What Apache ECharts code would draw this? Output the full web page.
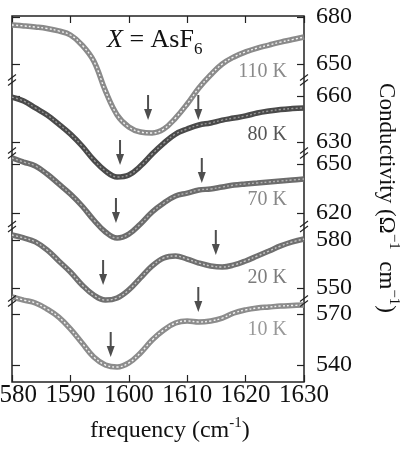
<!DOCTYPE html>
<html>
<head>
<meta charset="utf-8">
<script src="https://cdn.jsdelivr.net/npm/echarts@6/dist/echarts.min.js"></script>
<style>
  html, body { margin: 0; padding: 0; background: #fff; }
  #chart { width: 409px; height: 449px; }
</style>
</head>
<body>
<div id="chart"></div>
<script>
  // frequency grid (cm-1)
  const freq = [1580, 1582, 1584, 1586, 1588, 1590, 1592, 1594, 1596, 1598, 1600, 1602, 1604,
    1606, 1608, 1610, 1612, 1614, 1616, 1618, 1620, 1622, 1624, 1626, 1628, 1630]

  // conductivity, each spectrum on its own offset scale
  const s110 = [674.9, 674.3, 673.6, 672.7, 671.1, 668.5, 662.1, 651.9, 632.8, 617.5, 609.8, 606.6, 606.0,
    608.5, 615.5, 624.5, 634.7, 643.0, 650.0, 654.5, 657.7, 660.2, 662.1, 664.0, 665.6, 667.2]
  const s80 = [659.3, 656.7, 652.2, 647.6, 641.7, 635.2, 627.4, 618.3, 611.1, 607.2, 608.5, 614.3, 622.2,
    629.3, 635.2, 638.5, 641.1, 642.4, 644.3, 645.6, 647.0, 648.9, 650.2, 651.2, 651.8, 652.2]
  const s70 = [653.7, 651.2, 648.8, 643.9, 637.8, 631.6, 624.3, 615.7, 608.4, 604.7, 607.1, 613.3, 620.6,
    626.1, 630.4, 632.2, 634.1, 634.7, 635.9, 637.1, 637.8, 638.4, 639.0, 639.6, 640.2, 640.8]
  const s20 = [583.1, 581.3, 578.8, 573.8, 566.9, 560.0, 551.9, 545.6, 542.5, 543.8, 548.8, 556.3, 563.8,
    568.8, 570.0, 568.1, 565.6, 563.8, 563.1, 564.4, 566.9, 570.0, 573.1, 576.3, 578.8, 580.6]
  const s10 = [580.0, 578.2, 576.5, 572.9, 568.2, 561.2, 552.9, 544.7, 540.0, 538.8, 541.2, 547.1, 554.7,
    560.6, 564.7, 565.9, 565.3, 565.9, 567.6, 570.6, 572.4, 573.5, 574.1, 574.7, 575.0, 575.3]

  // axis ranges of each spectrum [min, max]
  const ranges = [[650, 680], [630, 660], [620, 650], [550, 580], [540, 570]]

  // arrow tips [frequency, conductivity]
  const a110 = [[1603.3, 614.3]]
  const a80 = [[1598.5, 615.0], [1611.9, 644.3]]
  const a70 = [[1597.8, 613.9], [1612.5, 638.4]]
  const a20 = [[1595.6, 551.9], [1614.9, 570.6]]
  const a10 = [[1596.9, 544.7], [1611.9, 571.2]]

  const temps = ['110 K', '80 K', '70 K', '20 K', '10 K']
  const spectra = [s110, s80, s70, s20, s10]
  const arrows = [a110, a80, a70, a20, a10]

  const serif = "'Liberation Serif', 'Times New Roman', serif"
  // pixel boxes for each spectrum's scale (top, height)
  const boxes = [[17, 47], [96, 46], [164, 49], [240, 48], [314, 51]]
  const outer = ['#8a8a8a', '#4a4a4a', '#6c6c6c', '#707070', '#8c8c8c']
  const inner = ['#f2f2f2', '#9a9a9a', '#b4b4b4', '#c8c8c8', '#f2f2f2']
  const labelColor = ['#8a8a8a', '#555', '#888', '#7c7c7c', '#999']
  const labelY = [72, 135, 200, 278, 330]

  const arrowPath = 'path://M3,0 L5,0 L5,14 L8,14 L4,25 L0,14 L3,14 Z'
  const plain = v => String(v)

  const grid = [{ left: 12, right: 105, top: 16, bottom: 67, show: true, outerBoundsMode: 'none',
    containLabel: false, borderColor: '#222', borderWidth: 1.5, backgroundColor: 'transparent' }]
  const xAxis = [
    {
      gridIndex: 0, type: 'value', min: 1580, max: 1630, interval: 10, position: 'bottom',
      axisLine: { show: false },
      axisTick: { inside: true, length: 7, lineStyle: { color: '#222', width: 1.2 } },
      axisLabel: { fontFamily: serif, fontSize: 25, color: '#111', margin: 1, formatter: plain,
        showMinLabel: true, showMaxLabel: true, hideOverlap: false },
      splitLine: { show: false }
    },
    {
      gridIndex: 0, type: 'value', min: 1580, max: 1630, interval: 10, position: 'top',
      axisLine: { show: false },
      axisTick: { inside: true, length: 7, lineStyle: { color: '#222', width: 1.2 } },
      axisLabel: { show: false },
      splitLine: { show: false }
    }
  ]
  const yAxis = [{ gridIndex: 0, type: 'value', min: 0, max: 1, show: false }]
  const series = []

  spectra.forEach((vals, k) => {
    const g = k + 1
    grid.push({ left: 12, right: 105, top: boxes[k][0], height: boxes[k][1],
      outerBoundsMode: 'none', containLabel: false })
    xAxis.push({ gridIndex: g, type: 'value', min: 1580, max: 1630, show: false })
    yAxis.push({
      gridIndex: g, type: 'value', position: 'right',
      min: ranges[k][0], max: ranges[k][1], interval: 30,
      axisLine: { show: false },
      axisTick: { inside: true, length: 7, lineStyle: { color: '#222', width: 1.2 } },
      axisLabel: { fontFamily: serif, fontSize: 24, color: '#111', margin: 12, formatter: plain,
        showMinLabel: true, showMaxLabel: true },
      splitLine: { show: false }
    })
    const data = freq.map((f, i) => [f, vals[i]])
    const xi = k + 2
    const yi = k + 1
    series.push({
      type: 'line', xAxisIndex: xi, yAxisIndex: yi, data: data, smooth: 0.4, clip: false,
      symbol: 'none', lineStyle: { color: outer[k], width: 5.5 }, z: 2
    })
    series.push({
      type: 'line', xAxisIndex: xi, yAxisIndex: yi, data: data, smooth: 0.4, clip: false,
      symbol: 'none', lineStyle: { color: inner[k], width: 1.4, type: [2, 2.2] }, z: 3
    })
    series.push({
      type: 'scatter', xAxisIndex: xi, yAxisIndex: yi, data: arrows[k], clip: false,
      symbol: arrowPath, symbolSize: [8, 25], symbolOffset: [0, '-50%'],
      itemStyle: { color: '#222' }, z: 4
    })
  })

  // left-hand mirror ticks
  spectra.forEach((vals, k) => {
    yAxis.push({
      gridIndex: k + 1, type: 'value', position: 'left',
      min: ranges[k][0], max: ranges[k][1], interval: 30,
      axisLine: { show: false },
      axisTick: { inside: true, length: 8, lineStyle: { color: '#222', width: 1.2 } },
      axisLabel: { show: false },
      splitLine: { show: false }
    })
  })

  const graphic = [
    {
      type: 'text', x: 107, y: 40,
      style: {
        text: '{i|X} = AsF{sub|6}', font: '26px ' + serif, fill: '#111',
        verticalAlign: 'middle', textVerticalAlign: 'middle',
        rich: {
          i: { fontFamily: serif, fontSize: 26, fontStyle: 'italic', fill: '#111' },
          sub: { fontFamily: serif, fontSize: 17, fill: '#111', padding: [20, 0, 0, 0] }
        }
      }
    },
    {
      type: 'text', x: 90, y: 431,
      style: {
        text: 'frequency (cm{sup|-1})', font: '24px ' + serif, fill: '#111',
        verticalAlign: 'middle', textVerticalAlign: 'middle',
        rich: { sup: { fontFamily: serif, fontSize: 15, fill: '#111', padding: [0, 0, 16, 0] } }
      }
    },
    {
      type: 'text', x: 386, y: 198, rotation: -Math.PI / 2,
      style: {
        text: 'Conductivity (Ω{sup|−1}  cm{sup|−1})', font: '23px ' + serif, fill: '#111',
        align: 'center', textAlign: 'center', verticalAlign: 'middle', textVerticalAlign: 'middle',
        rich: { sup: { fontFamily: serif, fontSize: 15, fill: '#111', padding: [0, 0, 16, 0] } }
      }
    }
  ]
  temps.forEach((t, k) => {
    graphic.push({
      type: 'text', x: 287, y: labelY[k],
      style: {
        text: t, font: '20px ' + serif, fill: labelColor[k],
        align: 'right', textAlign: 'right', verticalAlign: 'middle', textVerticalAlign: 'middle'
      }
    })
  })

  const chart = echarts.init(document.getElementById('chart'), null, { renderer: 'canvas' })
  chart.setOption({
    animation: false,
    backgroundColor: '#fff',
    grid: grid,
    xAxis: xAxis,
    yAxis: yAxis,
    series: series,
    graphic: graphic
  })

  // axis break marks between neighbouring scales
  const breaks = []
  for (let k = 0; k < 4; k++) {
    const yLow = chart.convertToPixel({ yAxisIndex: k + 1 }, ranges[k][0])
    const yHigh = chart.convertToPixel({ yAxisIndex: k + 2 }, ranges[k + 1][1])
    const ym = (yLow + yHigh) / 2
    ;[304, 12].forEach(xa => {
      ;[-2.5, 2.5].forEach(d => {
        breaks.push({
          type: 'line',
          shape: { x1: xa - 4, y1: ym + d + 3, x2: xa + 4, y2: ym + d - 3 },
          style: { stroke: '#222', lineWidth: 1.1 }, z: 10
        })
      })
    })
  }
  chart.setOption({ graphic: graphic.concat(breaks) })
</script>
</body>
</html>
